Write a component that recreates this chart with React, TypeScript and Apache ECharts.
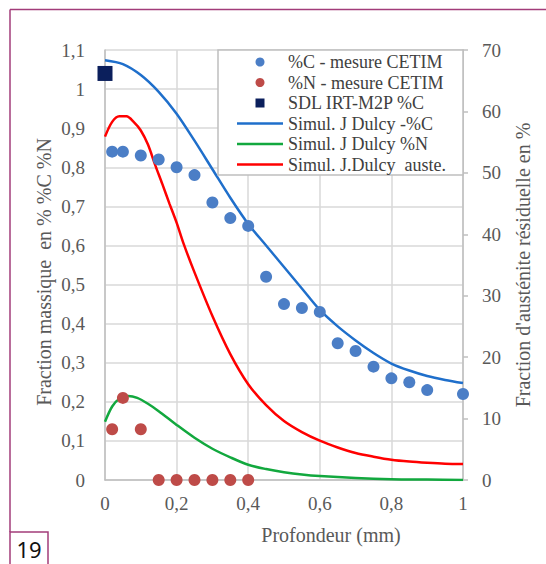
import React, { useEffect, useRef } from "react";
import * as echarts from "echarts";

const depthC = [0.02, 0.05, 0.1, 0.15, 0.2, 0.25, 0.3, 0.35, 0.4, 0.45, 0.5, 0.55, 0.6, 0.65, 0.7, 0.75, 0.8, 0.85, 0.9, 1.0];
const carbonMeas = [0.84, 0.84, 0.83, 0.82, 0.8, 0.78, 0.71, 0.67, 0.65, 0.52, 0.45, 0.44, 0.43, 0.35, 0.33, 0.29, 0.26, 0.25, 0.23, 0.22];

const depthN = [0.02, 0.05, 0.1, 0.15, 0.2, 0.25, 0.3, 0.35, 0.4];
const nitrogenMeas = [0.13, 0.21, 0.13, 0, 0, 0, 0, 0, 0];

const sdlDepth = [0];
const sdlCarbon = [1.04];

const simCDepth = [0, 0.05, 0.1, 0.15, 0.2, 0.25, 0.3, 0.35, 0.4, 0.45, 0.5, 0.55, 0.6, 0.65, 0.7, 0.75, 0.8, 0.85, 0.9, 0.95, 1.0];
const simCValues = [1.074, 1.064, 1.036, 0.993, 0.937, 0.868, 0.795, 0.722, 0.655, 0.6, 0.545, 0.49, 0.435, 0.393, 0.357, 0.325, 0.298, 0.28, 0.266, 0.256, 0.248];

const simNDepth = [0, 0.02, 0.04, 0.065, 0.09, 0.12, 0.15, 0.2, 0.25, 0.3, 0.35, 0.4, 0.45, 0.5, 0.55, 0.6, 0.7, 0.8, 0.9, 1.0];
const simNValues = [0.149, 0.188, 0.208, 0.215, 0.21, 0.195, 0.176, 0.141, 0.108, 0.08, 0.058, 0.039, 0.028, 0.02, 0.014, 0.01, 0.005, 0.002, 0.001, 0];

const simADepth = [0, 0.02, 0.04, 0.06, 0.08, 0.1, 0.12, 0.14, 0.16, 0.18, 0.2, 0.22, 0.25, 0.3, 0.35, 0.4, 0.45, 0.5, 0.55, 0.6, 0.65, 0.7, 0.75, 0.8, 0.85, 0.9, 0.95, 1.0];
const simAValues = [55.9, 58.3, 59.2, 59.2, 58.3, 56.9, 54.6, 51.3, 48.2, 45.0, 41.9, 38.4, 33.8, 26.7, 20.5, 15.6, 12.2, 9.6, 7.8, 6.4, 5.3, 4.4, 3.8, 3.3, 3.0, 2.8, 2.65, 2.6];

const legendNames = [
  "%C - mesure CETIM",
  "%N - mesure CETIM",
  "SDL IRT-M2P %C",
  "Simul. J Dulcy -%C",
  "Simul. J Dulcy %N",
  "Simul. J.Dulcy  auste.",
];

const xTitle = "Profondeur (mm)";
const yLeftTitle = "Fraction massique  en % %C %N";
const yRightTitle = "Fraction d'austénite résiduelle en %";
const figureNumber = "19";

const zip = (xs: number[], ys: number[]) => xs.map((x, i) => [x, ys[i]]);
const fmt = (v: number) => String(Math.round(v * 10) / 10).replace(".", ",");

const SERIF = "Liberation Serif";
const GREY = "#595959";
const FRAME = "#A23C7A";
const LINE_ICON = "path://M0,0H46V2.6H0Z";
const SQUARE_ICON = "path://M0,0H10V10H0Z";

export default function App() {
  const ref = useRef<HTMLDivElement>(null);
  useEffect(() => {
    document.body.style.margin = "0";
    const chart = echarts.init(ref.current!, null, { renderer: "svg" });
    chart.setOption({
      animation: false,
      backgroundColor: "#ffffff",
      textStyle: { fontFamily: SERIF },
      grid: { left: 105, right: 83, top: 50, bottom: 84 },
      xAxis: {
        type: "value",
        min: 0,
        max: 1,
        interval: 0.2,
        axisLine: { show: true, lineStyle: { color: "#bfbfbf", width: 1.5 } },
        axisTick: { show: false },
        splitLine: { show: true, lineStyle: { color: "#d9d9d9", width: 1.5 } },
        axisLabel: { formatter: fmt, margin: 14, color: GREY, fontFamily: SERIF, fontSize: 19 },
      },
      yAxis: [
        {
          type: "value",
          min: 0,
          max: 1.1,
          interval: 0.1,
          axisLine: { show: true, lineStyle: { color: "#bfbfbf", width: 1.5 } },
          axisTick: { show: false },
          splitLine: { show: true, lineStyle: { color: "#d9d9d9", width: 1.5 } },
          axisLabel: { formatter: fmt, margin: 20, color: GREY, fontFamily: SERIF, fontSize: 19 },
        },
        {
          type: "value",
          position: "right",
          min: 0,
          max: 70,
          interval: 10,
          axisLine: { show: true, lineStyle: { color: "#bfbfbf", width: 1.5 } },
          axisTick: { show: true, inside: false, length: 5, lineStyle: { color: "#bfbfbf", width: 1.5 } },
          splitLine: { show: false },
          axisLabel: { margin: 19, color: GREY, fontFamily: SERIF, fontSize: 19 },
        },
      ],
      legend: {
        orient: "vertical",
        left: 218,
        top: 50,
        padding: [3, 0, 0, 19],
        itemWidth: 46,
        itemHeight: 9,
        itemGap: 2.5,
        z: 6,
        textStyle: { fontFamily: SERIF, fontSize: 18, color: "#404040", lineHeight: 18 },
        data: [
          { name: legendNames[0], icon: "circle" },
          { name: legendNames[1], icon: "circle" },
          { name: legendNames[2], icon: SQUARE_ICON },
          { name: legendNames[3], icon: LINE_ICON },
          { name: legendNames[4], icon: LINE_ICON },
          { name: legendNames[5], icon: LINE_ICON },
        ],
      },
      graphic: [
        {
          type: "rect",
          z: 5,
          shape: { x: 218, y: 50, width: 245, height: 125 },
          style: { fill: "#ffffff", stroke: "#bfbfbf", lineWidth: 1.5 },
        },
        {
          type: "line",
          shape: { x1: 10, y1: 9.5, x2: 546, y2: 9.5 },
          style: { stroke: FRAME, lineWidth: 1.5 },
        },
        {
          type: "line",
          shape: { x1: 10, y1: 9.5, x2: 10, y2: 532 },
          style: { stroke: FRAME, lineWidth: 1.5 },
        },
        {
          type: "rect",
          shape: { x: 10, y: 532, width: 38, height: 40 },
          style: { fill: "#ffffff", stroke: FRAME, lineWidth: 1.5 },
        },
        {
          type: "text",
          x: 29,
          y: 549,
          z: 10,
          style: {
            text: figureNumber,
            textAlign: "center",
            textVerticalAlign: "middle",
            fontFamily: "Noto Sans",
            fontSize: 22,
            fill: "#111111",
          },
        },
        {
          type: "text",
          x: 331,
          y: 535,
          style: {
            text: xTitle,
            textAlign: "center",
            textVerticalAlign: "middle",
            fontFamily: SERIF,
            fontSize: 20,
            fill: GREY,
          },
        },
        {
          type: "text",
          x: 44,
          y: 272,
          rotation: Math.PI / 2,
          style: {
            text: yLeftTitle,
            textAlign: "center",
            textVerticalAlign: "middle",
            fontFamily: SERIF,
            fontSize: 20,
            fill: GREY,
          },
        },
        {
          type: "text",
          x: 523,
          y: 265,
          rotation: Math.PI / 2,
          style: {
            text: yRightTitle,
            textAlign: "center",
            textVerticalAlign: "middle",
            fontFamily: SERIF,
            fontSize: 20,
            fill: GREY,
          },
        },
      ],
      series: [
        {
          name: legendNames[3],
          type: "line",
          data: zip(simCDepth, simCValues),
          smooth: 0.3,
          showSymbol: false,
          symbol: "none",
          lineStyle: { color: "#1F6FCB", width: 2.5 },
          itemStyle: { color: "#1F6FCB" },
          z: 2,
        },
        {
          name: legendNames[4],
          type: "line",
          data: zip(simNDepth, simNValues),
          smooth: 0.3,
          showSymbol: false,
          symbol: "none",
          lineStyle: { color: "#12A83E", width: 2.5 },
          itemStyle: { color: "#12A83E" },
          z: 2,
        },
        {
          name: legendNames[5],
          type: "line",
          yAxisIndex: 1,
          data: zip(simADepth, simAValues),
          smooth: 0.3,
          showSymbol: false,
          symbol: "none",
          lineStyle: { color: "#FF0000", width: 2.5 },
          itemStyle: { color: "#FF0000" },
          z: 2,
        },
        {
          name: legendNames[0],
          type: "scatter",
          data: zip(depthC, carbonMeas),
          symbol: "circle",
          symbolSize: 12,
          itemStyle: { color: "#4B7EC6", opacity: 1 },
          z: 3,
        },
        {
          name: legendNames[1],
          type: "scatter",
          data: zip(depthN, nitrogenMeas),
          symbol: "circle",
          symbolSize: 12,
          itemStyle: { color: "#BE4B48", opacity: 1 },
          z: 3,
        },
        {
          name: legendNames[2],
          type: "scatter",
          data: zip(sdlDepth, sdlCarbon),
          symbol: "rect",
          symbolSize: 15,
          clip: false,
          itemStyle: { color: "#0B1F5C", opacity: 1 },
          z: 3,
        },
      ],
    });
    return () => chart.dispose();
  }, []);
  return <div ref={ref} style={{ width: 546, height: 564 }} />;
}
